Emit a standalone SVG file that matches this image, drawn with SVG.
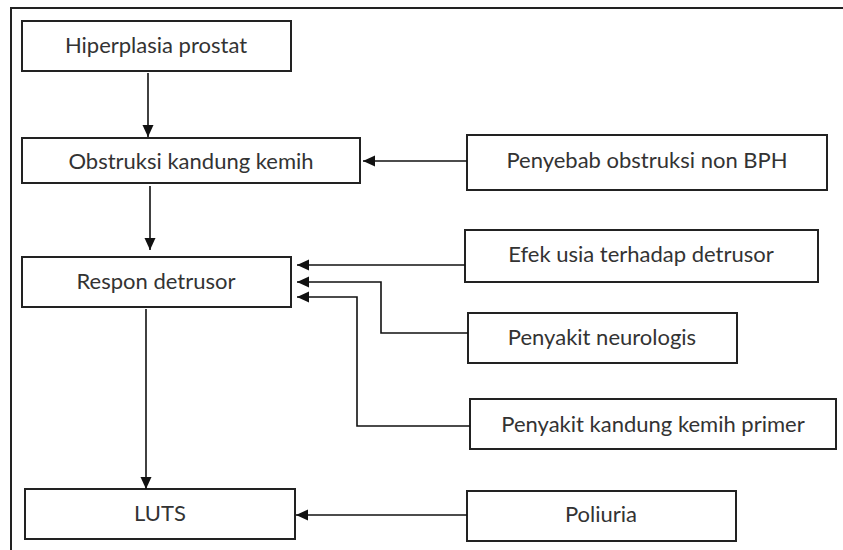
<svg xmlns="http://www.w3.org/2000/svg" width="843" height="550" viewBox="0 0 843 550">
<style>
.box{fill:#fff;stroke:#222;stroke-width:2}
.t{font-family:Lato,"Liberation Sans",sans-serif;font-size:22px;fill:#333;text-anchor:middle}
.c{fill:none;stroke:#111;stroke-width:1.6}
.frame{fill:none;stroke:#222;stroke-width:2}
</style>
<defs>
<marker id="ah" markerUnits="userSpaceOnUse" markerWidth="12" markerHeight="12" viewBox="0 0 12 12" refX="12" refY="6" orient="auto">
<path d="M0,0.5 L12,6 L0,11.5 Z" fill="#111"/>
</marker>
</defs>
<rect width="843" height="550" fill="#fff"/>
<path class="frame" d="M11,550 V8 H843"/>
<g id="n1"><rect class="box" x="22" y="21" width="269" height="50"/><text class="t" x="156" y="53">Hiperplasia prostat</text></g>
<g id="n2"><rect class="box" x="22" y="138" width="338" height="45"/><text class="t" x="191" y="169">Obstruksi kandung kemih</text></g>
<g id="n3"><rect class="box" x="22" y="257" width="269" height="50"/><text class="t" x="156" y="289">Respon detrusor</text></g>
<g id="n4"><rect class="box" x="25" y="489" width="270" height="50"/><text class="t" x="160" y="521">LUTS</text></g>
<g id="n5"><rect class="box" x="467" y="135" width="360" height="55"/><text class="t" x="647" y="168">Penyebab obstruksi non BPH</text></g>
<g id="n6"><rect class="box" x="465" y="230" width="353" height="52"/><text class="t" x="641" y="262">Efek usia terhadap detrusor</text></g>
<g id="n7"><rect class="box" x="468" y="313" width="269" height="50"/><text class="t" x="602" y="345">Penyakit neurologis</text></g>
<g id="n8"><rect class="box" x="470" y="399" width="366" height="50"/><text class="t" x="653" y="432">Penyakit kandung kemih primer</text></g>
<g id="n9"><rect class="box" x="467" y="491" width="269" height="50"/><text class="t" x="601" y="522">Poliuria</text></g>
<g id="connectors">
<path class="c" marker-end="url(#ah)" d="M148,73 V137"/>
<path class="c" marker-end="url(#ah)" d="M150,186 V250"/>
<path class="c" marker-end="url(#ah)" d="M146,309 V489"/>
<path class="c" marker-end="url(#ah)" d="M467,161 H363"/>
<path class="c" marker-end="url(#ah)" d="M465,265 H297"/>
<path class="c" marker-end="url(#ah)" d="M468,333 H381 V282 H297"/>
<path class="c" marker-end="url(#ah)" d="M470,426 H357 V297 H297"/>
<path class="c" marker-end="url(#ah)" d="M467,515 H296"/>
</g>
</svg>
